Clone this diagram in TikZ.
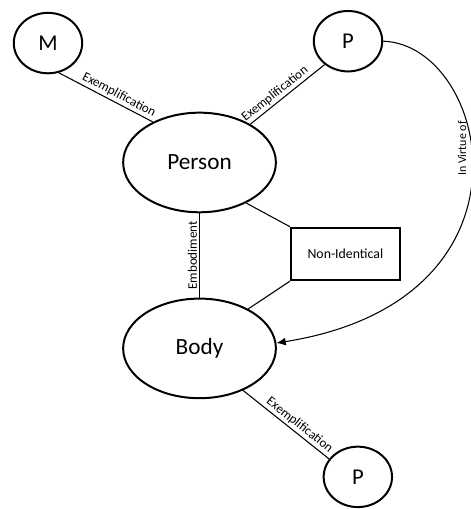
\documentclass[tikz,border=0pt]{standalone}
\usepackage{fontspec}
\setmainfont{Carlito}
\usepackage{tikz}
\usetikzlibrary{shapes.geometric,arrows.meta}

\begin{document}
\begin{tikzpicture}[
    big/.style={ellipse, draw, line width=1.5pt, inner sep=0pt,
      minimum width=115pt, minimum height=75pt, font=\fontsize{17.5}{21}\selectfont},
    small/.style={ellipse, draw, line width=1.5pt, inner sep=0pt,
      minimum width=51.5pt, minimum height=45.5pt, font=\fontsize{17}{20}\selectfont},
    link/.style={line width=0.8pt},
    lab/.style={sloped, above, inner sep=1.5pt, font=\fontsize{9.8}{11}\selectfont}
  ]
    \useasboundingbox (0,0) rectangle (12.46,13.47) ;
    \node [small] (M) at (1.27,12.33) {M} ;
    \node [small] (Ptop) at (9.21,12.38) {P} ;
    \node [big] (Person) at (5.28,9.17) {Person} ;
    \node [big] (Body) at (5.28,4.25) {Body} ;
    \node [small] (Pbot) at (9.47,0.85) {P} ;
    \node [draw, line width=1.5pt, minimum width=82pt, minimum height=39.5pt,
      font=\fontsize{10.4}{12}\selectfont] (Box) at (9.14,6.75) {Non-Identical} ;
    \draw [link] (M.-70) -- node [lab, pos=0.6] {Exemplification} (Person.139) ;
    \draw [link] (Person.37) -- node [lab, pos=0.4] {Exemplification} (Ptop.-135) ;
    \draw [link] (Body.north) -- node [lab, pos=0.5] {Embodiment} (Person.south) ;
    \draw [link] (Person.-41) -- (Box.north west) ;
    \draw [link] (Box.south west) -- (Body.39) ;
    \draw [link] (Body.-44) -- node [lab, pos=0.6] {Exemplification} (Pbot.148) ;
    \draw [link, -{Latex[length=7pt,width=6pt]}] (Ptop.east) .. controls
      (12.95,12.28) and (14.5,5.53) .. (Body.4)
      node [pos=0.43, rotate=90, anchor=south, inner sep=3.5pt,
      font=\fontsize{9}{11}\selectfont] {In Virtue of} ;
  \end{tikzpicture}
\end{document}
